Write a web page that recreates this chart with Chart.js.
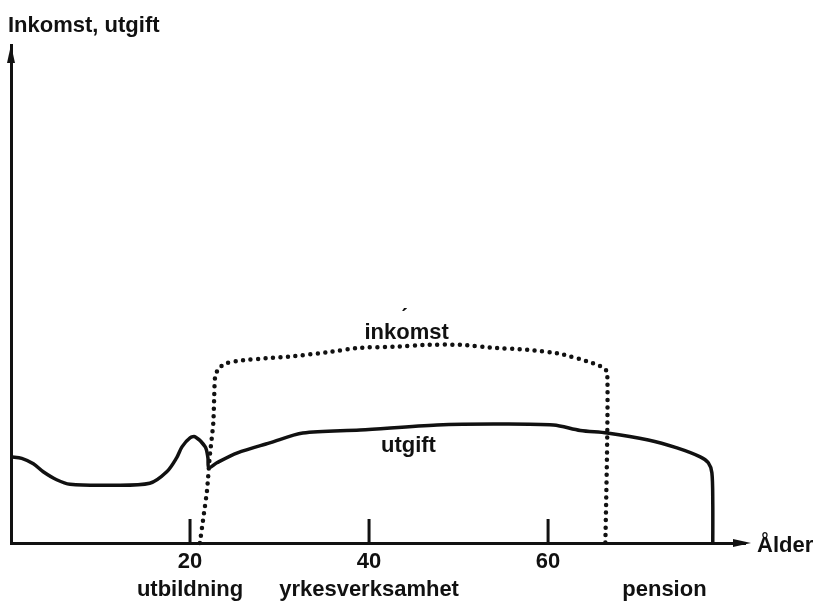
<!DOCTYPE html>
<html>
<head>
<meta charset="utf-8">
<script src="https://cdn.jsdelivr.net/npm/chart.js@4/dist/chart.umd.min.js"></script>
<style>
  html, body { margin: 0; padding: 0; background: #fff; }
  canvas { display: block; }
</style>
</head>
<body>
<canvas id="chart" width="817" height="601"></canvas>
<script>
// ages (years) and levels (arbitrary units, 100 = top of the y axis)
const utgiftAge = [0, 1.2, 2.5, 3.6, 5.1, 6.6, 11, 15.5, 17.4, 18.5, 19.1, 20.0, 20.6, 21.7, 22.0, 22.1,
  23.0, 25.3, 28.9, 32.6, 39.0, 47.6, 53.9, 60.6, 63.6, 66.6, 71.2, 74.4, 77.0, 77.9, 78.3, 78.4, 78.4];
const utgiftVal = [17.3, 17.0, 15.9, 14.3, 12.7, 11.8, 11.6, 12.0, 14.3, 17.1, 19.3, 21.1, 21.3, 19.3, 17.1, 15.1,
  16.1, 18.1, 20.1, 22.1, 22.7, 23.7, 23.9, 23.7, 22.6, 22.1, 20.7, 19.1, 17.3, 16.1, 14.1, 8.0, 0];

const inkomstAge = [21.1, 21.5, 21.9, 22.2, 22.6, 22.7, 22.8, 23.2, 24.1, 25.9, 28.6, 31.5, 35.3, 39.0,
  42.7, 46.5, 50.2, 53.9, 57.7, 61.3, 64.7, 66.1, 66.6, 66.6, 66.4];
const inkomstVal = [0, 5.2, 10.6, 17.3, 24.1, 29.3, 33.3, 35.1, 36.1, 36.7, 37.1, 37.5, 38.3, 39.2,
  39.4, 39.8, 39.8, 39.2, 38.8, 38.0, 36.3, 35.3, 34.3, 20, 0];

const tickAges = [20, 40, 60];
const phaseLabels = ['utbildning', 'yrkesverksamhet', 'pension'];
const phaseAges = [20, 40, 73];

// curve names written next to the curves, anchored in data units
const curveLabels = [
  {text: 'inkomst', age: 44.2, val: 41.0},
  {text: 'utgift', age: 44.4, val: 18.3},
  {text: '\u02CF', age: 43.9, val: 47.4}
];

const FONT = "'Liberation Sans', Arial, sans-serif";
const INK = '#111';

const toPoints = (xs, ys) => xs.map((x, i) => ({x: x, y: ys[i]}));

const drawingPlugin = {
  id: 'drawing',
  afterDraw(chart) {
    const ctx = chart.ctx;
    const xs = chart.scales.x, ys = chart.scales.y;
    const area = chart.chartArea;
    ctx.save();
    ctx.fillStyle = INK;
    ctx.strokeStyle = INK;

    // arrow heads
    ctx.beginPath();
    ctx.moveTo(area.left, area.top);
    ctx.lineTo(area.left - 4, area.top + 18);
    ctx.lineTo(area.left + 4, area.top + 18);
    ctx.closePath();
    ctx.fill();
    ctx.beginPath();
    ctx.moveTo(area.right + 6, area.bottom);
    ctx.lineTo(area.right - 12, area.bottom - 4);
    ctx.lineTo(area.right - 12, area.bottom + 4);
    ctx.closePath();
    ctx.fill();

    // tick marks standing up from the x axis
    ctx.lineWidth = 3;
    tickAges.forEach(a => {
      const px = xs.getPixelForValue(a);
      ctx.beginPath();
      ctx.moveTo(px, area.bottom);
      ctx.lineTo(px, area.bottom - 24);
      ctx.stroke();
    });

    ctx.font = 'bold 22px ' + FONT;
    ctx.textBaseline = 'alphabetic';

    // axis titles
    ctx.textAlign = 'left';
    ctx.fillText('Inkomst, utgift', 8, 32);
    ctx.fillText('\u00C5lder', area.right + 12, area.bottom + 9);

    // curve names
    ctx.textAlign = 'center';
    curveLabels.forEach(l => {
      ctx.fillText(l.text, xs.getPixelForValue(l.age), ys.getPixelForValue(l.val));
    });

    // life phases under the axis
    phaseLabels.forEach((t, i) => {
      ctx.fillText(t, xs.getPixelForValue(phaseAges[i]), 596);
    });
    ctx.restore();
  }
};

new Chart(document.getElementById('chart').getContext('2d'), {
  type: 'line',
  data: {
    datasets: [{
      label: 'utgift',
      data: toPoints(utgiftAge, utgiftVal),
      borderColor: INK,
      borderWidth: 3.5,
      borderJoinStyle: 'round',
      pointRadius: 0,
      tension: 0.3,
      fill: false
    }, {
      label: 'inkomst',
      data: toPoints(inkomstAge, inkomstVal),
      borderColor: INK,
      borderWidth: 4.5,
      borderDash: [0, 7.5],
      borderCapStyle: 'round',
      pointRadius: 0,
      tension: 0.2,
      fill: false
    }]
  },
  options: {
    responsive: false,
    animation: false,
    clip: false,
    layout: {padding: {top: 45, right: 72, left: 0, bottom: 0}},
    plugins: {legend: {display: false}, tooltip: {enabled: false}},
    scales: {
      x: {
        type: 'linear',
        min: 0,
        max: 82,
        afterBuildTicks: scale => { scale.ticks = tickAges.map(v => ({value: v})); },
        afterFit: scale => { scale.height = 58; },
        grid: {display: false, drawTicks: false},
        border: {display: true, color: INK, width: 3},
        ticks: {color: INK, padding: 6, font: {family: FONT, size: 22, weight: 'bold'}}
      },
      y: {
        min: 0,
        max: 100,
        afterFit: scale => { scale.width = 11; },
        grid: {display: false, drawTicks: false},
        border: {display: true, color: INK, width: 3},
        ticks: {display: false}
      }
    }
  },
  plugins: [drawingPlugin]
});
</script>
</body>
</html>
